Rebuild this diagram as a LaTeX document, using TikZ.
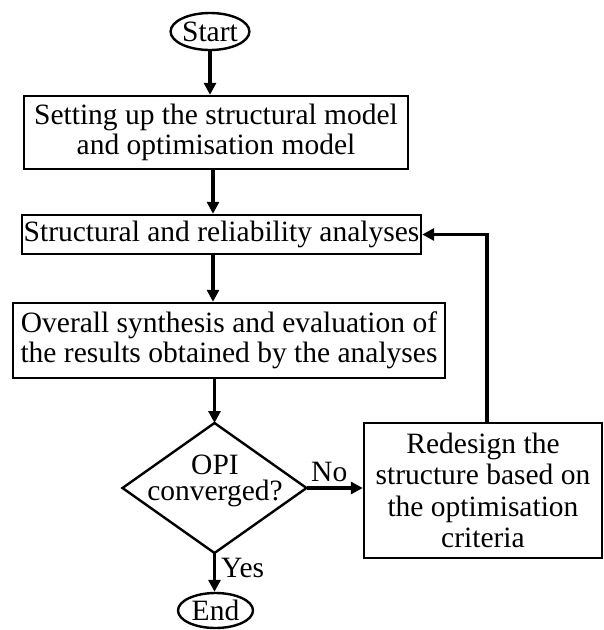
\documentclass[tikz,border=0pt]{standalone}
\usepackage{fontspec}
\setmainfont{Liberation Serif}
\usetikzlibrary{arrows.meta,shapes.geometric}
\begin{document}
\begin{tikzpicture}[x=1pt,y=-1pt,
  every node/.style={font=\fontsize{29.5}{30.5}\selectfont, inner sep=0pt, align=center},
  boxnode/.style={draw, line width=2.4pt, rectangle},
  termnode/.style={draw, line width=2.4pt, ellipse},
  arr/.style={line width=3.8pt, -{Triangle[length=12pt,width=12pt]}},
  lbl/.style={font=\fontsize{29.5}{30.5}\selectfont}
]
\useasboundingbox (0,0) rectangle (604,630);
\node[termnode, minimum width=74pt, minimum height=37pt] (start) at (210,31.5) {Start};
\node[boxnode, minimum width=384pt, minimum height=73pt] (b1) at (216,132.5) {Setting up the structural model\\and optimisation model};
\node[boxnode, minimum width=399pt, minimum height=39pt] (b2) at (221.5,234.5) {Structural and reliability analyses};
\node[boxnode, minimum width=432pt, minimum height=75pt] (b3) at (229,340.5) {Overall synthesis and evaluation of\\the results obtained by the analyses};
\coordinate (dN) at (214.5,423);
\coordinate (dE) at (306.5,488);
\coordinate (dS) at (214.5,553);
\coordinate (dW) at (122.5,488);
\draw[line width=2.4pt, line join=miter] (dN) -- (dE) -- (dS) -- (dW) -- cycle;
\node[font=\fontsize{29.5}{26}\selectfont, anchor=base] (dec) at (215,500) {OPI\\converged?};
\node[boxnode, minimum width=238pt, minimum height=135pt, font=\fontsize{29.5}{31.5}\selectfont] (re) at (483,490.5) {Redesign the\\structure based on\\the optimisation\\criteria};
\node[termnode, minimum width=75pt, minimum height=35pt] (end) at (215.5,610.5) {End};
\coordinate (ax) at (213,0);
\coordinate (fx) at (487,0);
\draw[arr] (start.south) -- (start.south |- b1.north);
\draw[arr] (b1.south -| ax) -- (b2.north -| ax);
\draw[arr] (b2.south -| ax) -- (b3.north -| ax);
\draw[arr] (b3.south -| dN) -- (dN);
\draw[arr] (dE) -- (re.west |- dE);
\draw[arr] (dS) -- (dS |- end.north);
\draw[arr] (re.north -| fx) |- (b2.east);
\node[lbl, anchor=base west] (no) at (311,481) {No};
\node[lbl, anchor=base west] (yes) at (221,577) {Yes};
\end{tikzpicture}
\end{document}
